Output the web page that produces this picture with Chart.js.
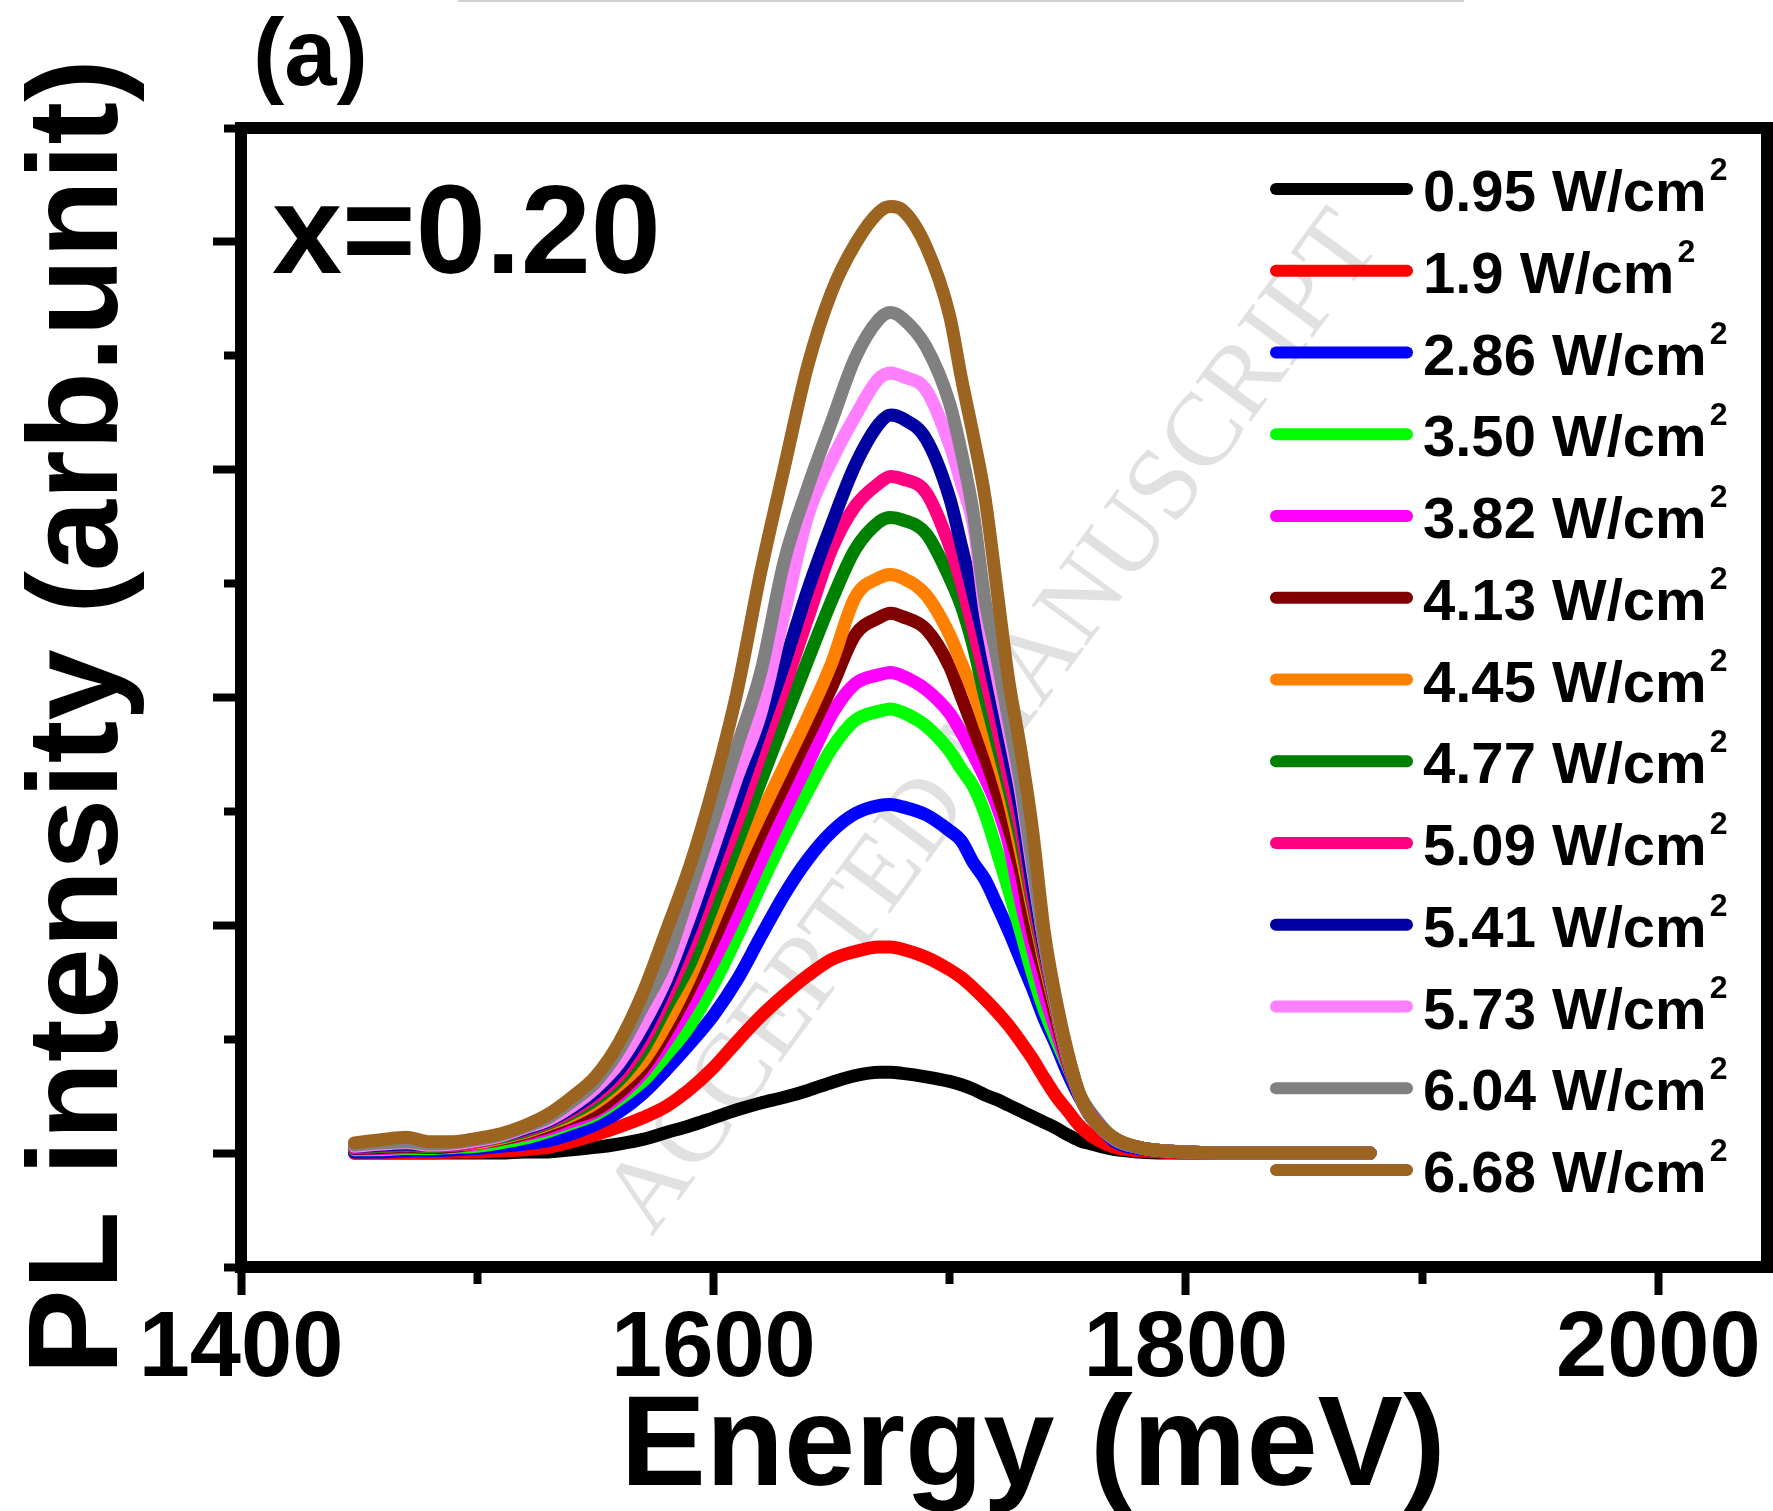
<!DOCTYPE html>
<html>
<head>
<meta charset="utf-8">
<title>PL spectra x=0.20</title>
<script src="https://cdn.jsdelivr.net/npm/chart.js@4.4.0/dist/chart.umd.min.js"></script>
<style>
  html, body { margin: 0; padding: 0; background: #fff; }
  #wrap { width: 1773px; height: 1511px; }
</style>
</head>
<body>
<div id="wrap"><canvas id="plChart" width="1773" height="1511"></canvas></div>
<script>
// energy grid (meV), shared by every spectrum
const energy = [1448, 1460, 1470, 1480, 1490, 1500, 1510, 1520, 1530, 1540,
  1550, 1560, 1570, 1580, 1590, 1600, 1610, 1620, 1630, 1640,
  1650, 1660, 1670, 1675, 1680, 1690, 1700, 1705, 1710, 1715,
  1720, 1725, 1730, 1735, 1740, 1745, 1750, 1755, 1760, 1770,
  1780, 1790, 1800, 1820, 1840, 1860, 1878];

// PL intensity (arb. units) for each excitation power density
const pl095 = [0.00, 0.00, 0.00, 0.00, 0.00, 0.00, 0.00, 0.01, 0.01, 0.03,
  0.05, 0.08, 0.12, 0.18, 0.24, 0.31, 0.38, 0.44, 0.49, 0.55,
  0.62, 0.68, 0.71, 0.71, 0.70, 0.67, 0.63, 0.60, 0.56, 0.51,
  0.47, 0.42, 0.37, 0.32, 0.27, 0.22, 0.16, 0.11, 0.08, 0.03,
  0.01, 0.00, 0.00, 0.00, 0.00, 0.00, 0.00];
const pl19 = [0.00, 0.00, 0.00, 0.00, 0.01, 0.01, 0.02, 0.03, 0.05, 0.10,
  0.16, 0.23, 0.31, 0.41, 0.56, 0.75, 0.98, 1.20, 1.39, 1.56,
  1.70, 1.77, 1.81, 1.81, 1.79, 1.72, 1.61, 1.54, 1.45, 1.35,
  1.24, 1.12, 0.98, 0.83, 0.66, 0.50, 0.37, 0.24, 0.15, 0.05,
  0.02, 0.01, 0.00, 0.00, 0.00, 0.00, 0.00];
const pl286 = [0.01, 0.01, 0.02, 0.02, 0.03, 0.04, 0.06, 0.08, 0.11, 0.17,
  0.25, 0.36, 0.52, 0.73, 0.96, 1.21, 1.52, 1.90, 2.27, 2.58,
  2.82, 2.98, 3.05, 3.06, 3.04, 2.97, 2.83, 2.74, 2.55, 2.40,
  2.18, 1.95, 1.70, 1.45, 1.18, 0.95, 0.70, 0.49, 0.33, 0.10,
  0.04, 0.02, 0.01, 0.00, 0.00, 0.00, 0.00];
const pl350 = [0.03, 0.03, 0.04, 0.04, 0.05, 0.06, 0.09, 0.13, 0.19, 0.26,
  0.34, 0.47, 0.63, 0.86, 1.12, 1.48, 1.90, 2.35, 2.78, 3.18,
  3.55, 3.80, 3.88, 3.90, 3.87, 3.75, 3.53, 3.37, 3.22, 2.98,
  2.65, 2.31, 1.95, 1.58, 1.26, 1.00, 0.76, 0.51, 0.35, 0.12,
  0.05, 0.02, 0.01, 0.00, 0.00, 0.00, 0.00];
const pl382 = [0.04, 0.04, 0.05, 0.05, 0.06, 0.08, 0.12, 0.16, 0.21, 0.28,
  0.36, 0.50, 0.70, 0.98, 1.30, 1.68, 2.10, 2.56, 3.00, 3.42,
  3.85, 4.12, 4.20, 4.22, 4.19, 4.07, 3.86, 3.69, 3.50, 3.29,
  3.05, 2.72, 2.22, 1.80, 1.40, 1.08, 0.78, 0.51, 0.34, 0.12,
  0.05, 0.02, 0.01, 0.00, 0.00, 0.00, 0.00];
const pl413 = [0.04, 0.05, 0.06, 0.05, 0.06, 0.09, 0.12, 0.17, 0.23, 0.31,
  0.38, 0.53, 0.74, 1.06, 1.44, 1.87, 2.33, 2.80, 3.23, 3.66,
  4.09, 4.55, 4.70, 4.74, 4.71, 4.60, 4.27, 4.00, 3.73, 3.47,
  3.17, 2.85, 2.48, 1.95, 1.58, 1.18, 0.80, 0.50, 0.31, 0.12,
  0.05, 0.02, 0.01, 0.00, 0.00, 0.00, 0.00];
const pl445 = [0.05, 0.06, 0.07, 0.06, 0.07, 0.09, 0.13, 0.18, 0.25, 0.33,
  0.44, 0.60, 0.80, 1.13, 1.54, 2.03, 2.52, 2.97, 3.40, 3.83,
  4.30, 4.88, 5.05, 5.08, 5.05, 4.90, 4.55, 4.30, 4.05, 3.75,
  3.45, 3.10, 2.65, 2.15, 1.68, 1.25, 0.82, 0.51, 0.32, 0.12,
  0.05, 0.02, 0.01, 0.00, 0.00, 0.00, 0.00];
const pl477 = [0.05, 0.06, 0.07, 0.06, 0.07, 0.10, 0.14, 0.19, 0.26, 0.35,
  0.47, 0.64, 0.90, 1.28, 1.66, 2.18, 2.72, 3.26, 3.80, 4.33,
  4.85, 5.30, 5.54, 5.58, 5.56, 5.44, 5.05, 4.80, 4.45, 4.00,
  3.60, 3.20, 2.75, 2.20, 1.72, 1.27, 0.84, 0.51, 0.32, 0.12,
  0.05, 0.02, 0.01, 0.00, 0.00, 0.00, 0.00];
const pl509 = [0.05, 0.07, 0.08, 0.07, 0.07, 0.10, 0.15, 0.20, 0.27, 0.37,
  0.50, 0.68, 0.97, 1.37, 1.83, 2.37, 2.91, 3.50, 4.09, 4.70,
  5.30, 5.68, 5.88, 5.94, 5.92, 5.80, 5.33, 5.00, 4.60, 4.18,
  3.75, 3.30, 2.85, 2.25, 1.75, 1.29, 0.85, 0.51, 0.32, 0.12,
  0.05, 0.02, 0.01, 0.00, 0.00, 0.00, 0.00];
const pl541 = [0.06, 0.07, 0.08, 0.07, 0.08, 0.11, 0.15, 0.21, 0.28, 0.39,
  0.53, 0.73, 1.04, 1.46, 1.95, 2.52, 3.10, 3.70, 4.30, 4.95,
  5.52, 6.04, 6.40, 6.48, 6.45, 6.27, 5.75, 5.33, 4.90, 4.47,
  4.00, 3.50, 3.00, 2.35, 1.80, 1.31, 0.86, 0.51, 0.32, 0.12,
  0.05, 0.02, 0.01, 0.00, 0.00, 0.00, 0.00];
const pl573 = [0.06, 0.08, 0.09, 0.07, 0.08, 0.11, 0.15, 0.22, 0.29, 0.41,
  0.57, 0.79, 1.12, 1.53, 2.08, 2.68, 3.30, 3.86, 4.74, 5.60,
  6.08, 6.47, 6.80, 6.85, 6.82, 6.70, 6.22, 5.88, 5.52, 4.75,
  4.20, 3.70, 3.18, 2.50, 1.85, 1.31, 0.86, 0.51, 0.32, 0.12,
  0.05, 0.02, 0.01, 0.00, 0.00, 0.00, 0.00];
const pl604 = [0.07, 0.09, 0.10, 0.08, 0.09, 0.12, 0.16, 0.23, 0.31, 0.45,
  0.62, 0.90, 1.28, 1.68, 2.30, 2.92, 3.57, 4.22, 5.20, 5.85,
  6.42, 6.98, 7.32, 7.38, 7.33, 7.08, 6.58, 6.15, 5.62, 4.85,
  4.35, 3.80, 3.25, 2.55, 1.85, 1.32, 0.87, 0.51, 0.32, 0.12,
  0.05, 0.02, 0.01, 0.00, 0.00, 0.00, 0.00];
const pl668 = [0.09, 0.12, 0.14, 0.10, 0.10, 0.13, 0.17, 0.24, 0.34, 0.49,
  0.67, 0.97, 1.40, 1.95, 2.52, 3.22, 4.05, 5.10, 6.02, 6.92,
  7.56, 7.98, 8.26, 8.31, 8.28, 7.96, 7.35, 6.80, 6.30, 5.75,
  4.95, 4.15, 3.55, 2.85, 1.95, 1.35, 0.88, 0.52, 0.32, 0.13,
  0.05, 0.02, 0.01, 0.00, 0.00, 0.00, 0.00];

const powers = ['0.95', '1.9', '2.86', '3.50', '3.82', '4.13', '4.45',
  '4.77', '5.09', '5.41', '5.73', '6.04', '6.68'];
const colors = ['#000000', '#FF0000', '#0000FF', '#00FF00', '#FF00FF', '#800000', '#FF8000',
  '#008000', '#FF0080', '#0000A0', '#FF80FF', '#808080', '#9B6420'];
const series = [pl095, pl19, pl286, pl350, pl382, pl413, pl445,
  pl477, pl509, pl541, pl573, pl604, pl668];

const FONT = '"Liberation Sans", Arial, Helvetica, sans-serif';

// odd y values and odd hundreds on x get the short (minor) tick
const minorY = ctx => ctx.tick && Math.abs(ctx.tick.value) % 2 === 1;
const minorX = ctx => ctx.tick && ctx.tick.value % 200 !== 0;

const decorations = {
  id: 'decorations',
  beforeDraw(chart) {
    const c = chart.ctx;
    c.save();
    c.fillStyle = '#d2d2d2';
    c.fillRect(458, 0, 1006, 2);
    c.restore();
  },
  beforeDatasetsDraw(chart) {
    // faint publisher watermark
    const c = chart.ctx;
    c.save();
    c.translate(995, 724);
    c.rotate(-53.7 * Math.PI / 180);
    c.font = '104px "Liberation Serif", "Times New Roman", serif';
    c.fillStyle = '#e1e1e1';
    c.textAlign = 'center';
    c.textBaseline = 'middle';
    c.fillText('ACCEPTED MANUSCRIPT', 0, 0);
    c.restore();
  },
  afterDraw(chart) {
    const c = chart.ctx;
    const a = chart.chartArea;
    c.save();

    // frame
    c.strokeStyle = '#000';
    c.lineWidth = 12;
    c.lineJoin = 'miter';
    c.strokeRect(a.left, a.top, a.right - a.left, a.bottom - a.top);

    c.fillStyle = '#000';
    c.textBaseline = 'alphabetic';

    // axis titles
    c.font = 'bold 128px ' + FONT;
    c.textAlign = 'center';
    c.fillText('Energy (meV)', 1033, 1485);
    c.save();
    c.translate(117, 717);
    c.rotate(-Math.PI / 2);
    c.fillText('PL intensity (arb.unit)', 0, 0);
    c.restore();

    // panel label and composition
    c.textAlign = 'left';
    c.font = 'bold 94px ' + FONT;
    c.fillText('(a)', 253, 85);
    c.font = 'bold 126px ' + FONT;
    c.fillText('x=0.20', 272, 273);

    // legend
    chart.data.datasets.forEach((ds, i) => {
      const y = 189 + i * 81.75;
      c.strokeStyle = ds.borderColor;
      c.lineWidth = 12;
      c.lineCap = 'round';
      c.beginPath();
      c.moveTo(1276, y);
      c.lineTo(1407, y);
      c.stroke();
      const txt = powers[i] + ' W/cm';
      c.font = 'bold 58px ' + FONT;
      c.fillText(txt, 1423, y + 22);
      const w = c.measureText(txt).width;
      c.font = 'bold 32px ' + FONT;
      c.fillText('2', 1423 + w + 3, y - 9);
    });
    c.restore();
  }
};

const ctx = document.getElementById('plChart').getContext('2d');
new Chart(ctx, {
  type: 'line',
  data: {
    datasets: series.map((vals, i) => ({
      label: powers[i] + ' W/cm²',
      data: energy.map((e, k) => ({ x: e, y: vals[k] })),
      borderColor: colors[i],
      backgroundColor: colors[i],
      borderWidth: 13,
      borderCapStyle: 'round',
      borderJoinStyle: 'round',
      pointRadius: 0,
      fill: false,
      cubicInterpolationMode: 'monotone',
      order: series.length - i // highest power drawn last, on top
    }))
  },
  options: {
    responsive: false,
    animation: false,
    devicePixelRatio: 1,
    layout: { padding: { top: 128, right: 6, left: 0, bottom: 0 } },
    plugins: { legend: { display: false }, tooltip: { enabled: false } },
    scales: {
      x: {
        type: 'linear',
        min: 1400,
        max: 2046,
        afterBuildTicks: s => { s.ticks = s.ticks.filter(t => t.value % 100 === 0); },
        afterFit: s => { s.height = 244; },
        ticks: {
          stepSize: 100,
          includeBounds: false,
          autoSkip: false,
          maxRotation: 0,
          padding: 0,
          color: '#000',
          font: { family: FONT, size: 92, weight: 'bold', lineHeight: 1.2 },
          callback: v => (v % 200 === 0 ? String(v) : '')
        },
        grid: {
          drawOnChartArea: false,
          drawTicks: true,
          tickLength: 28,
          tickWidth: 8,
          tickColor: '#000',
          tickBorderDash: c => (minorX(c) ? [17, 200] : [])
        },
        border: { display: false }
      },
      y: {
        type: 'linear',
        min: -1,
        max: 9,
        afterFit: s => { s.width = 241; },
        ticks: { stepSize: 1, display: false },
        grid: {
          drawOnChartArea: false,
          drawTicks: true,
          tickLength: 28,
          tickWidth: 8,
          tickColor: '#000',
          tickBorderDash: c => (minorY(c) ? [17, 200] : []),
          tickBorderDashOffset: c => (minorY(c) ? 206 : 0)
        },
        border: { display: false }
      }
    }
  },
  plugins: [decorations]
});
</script>
</body>
</html>
